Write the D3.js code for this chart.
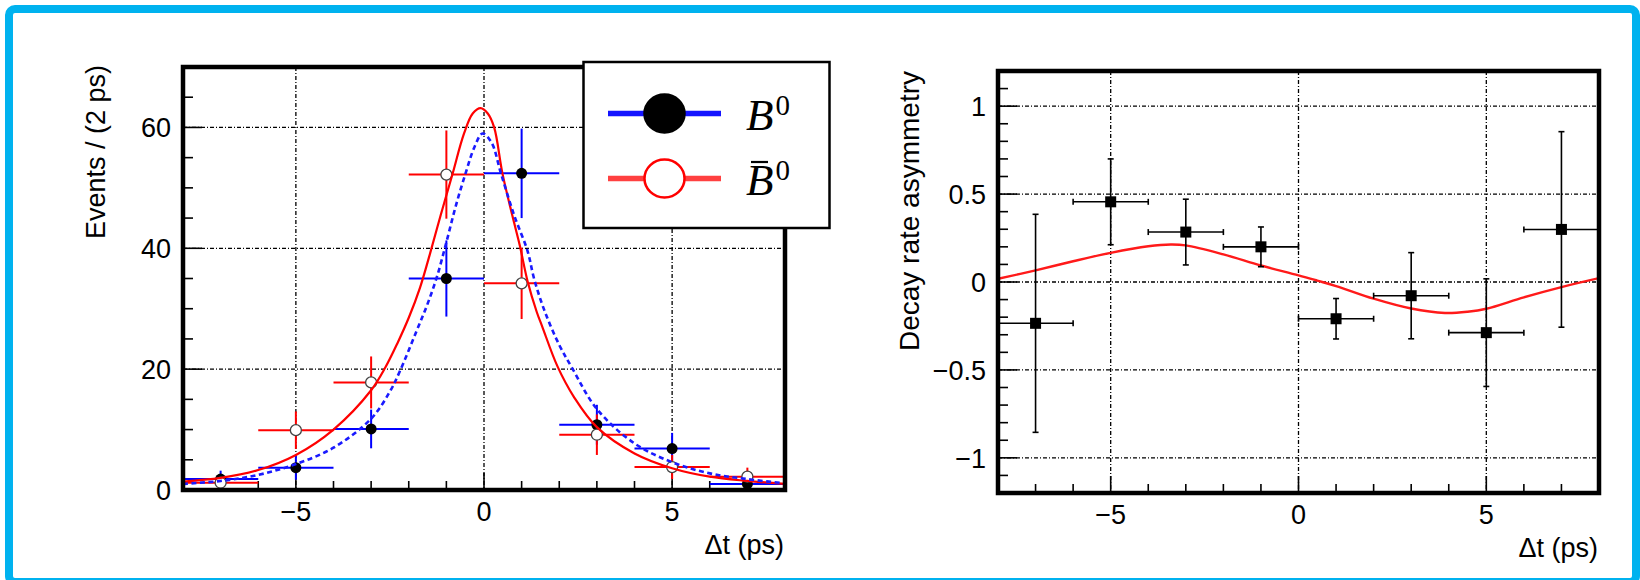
<!DOCTYPE html>
<html>
<head>
<meta charset="utf-8">
<script src="https://cdn.jsdelivr.net/npm/d3@7"></script>
<style>
  html, body { margin: 0; padding: 0; background: #fff; }
  svg { display: block; }
  text { font-family: "Liberation Sans", Arial, Helvetica, sans-serif; fill: #000; }
</style>
</head>
<body>
<svg id="chart" width="1640" height="580"></svg>
<script>
// Time-bin centres (ps) and bin half-width shared by both panels
const binCenters = [-7, -5, -3, -1, 1, 3, 5, 7];
const binHalfWidth = 1;

// Left panel: tagged event counts per 2 ps bin
const b0Counts      = [1.8, 3.7, 10.1, 35.0, 52.4, 10.8, 6.85, 1.0];
const b0Errors      = [1.4, 2.0, 3.2, 6.3, 7.4, 3.3, 2.6, 1.0];
const b0barCounts   = [1.2, 9.9, 17.8, 52.2, 34.2, 9.15, 3.8, 2.2];
const b0barErrors   = [1.1, 3.1, 4.3, 7.3, 5.9, 3.35, 2.0, 1.5];

// Left panel: fitted decay-time distributions
const b0FitT    = [-8, -7, -6, -5, -4, -3, -2.5, -2.24, -1.8, -1.5, -1.25, -1.0, -0.75, -0.49, -0.25, -0.04, 0.2, 0.45, 0.8, 1.16, 1.33, 1.6, 2.0, 2.35, 3.0, 4.0, 5.0, 6.0, 7.0, 8.0];
const b0FitY    = [1.0, 1.5, 2.5, 4.3, 7.0, 11.8, 16.3, 19.6, 26.2, 30.8, 35.3, 41, 47, 52.4, 56.8, 59.0, 57.5, 52.4, 45.5, 39.5, 35, 29.8, 24.0, 20.1, 13.4, 7.7, 4.6, 2.75, 1.8, 1.1];
const b0barFitT = [-8, -7, -6, -5, -4, -3, -2.62, -2.3, -2, -1.7, -1.44, -1.15, -0.85, -0.53, -0.3, -0.09, 0.1, 0.27, 0.49, 0.75, 0.95, 1.16, 1.4, 1.55, 1.95, 2.4, 3.0, 4.0, 5.0, 6.0, 7.0, 8.0];
const b0barFitY = [1.4, 2.0, 3.3, 5.8, 10.0, 16.5, 20.3, 24.3, 28.5, 33.5, 39, 45.5, 52, 59, 62.3, 63.2, 62.3, 60, 52.4, 45.5, 40.5, 34.5, 29.5, 27, 20.5, 15.3, 10.4, 6.05, 3.6, 2.2, 1.5, 1.0];

// Right panel: decay rate asymmetry per bin and the fitted oscillation
const asymValues = [-0.235, 0.456, 0.284, 0.200, -0.209, -0.078, -0.288, 0.299];
const asymErrors = [0.62, 0.244, 0.187, 0.113, 0.115, 0.245, 0.306, 0.556];
const asymFitT   = [-8, -7, -6, -5, -4, -3.4, -3, -2, -1, 0, 0.5, 1, 2, 3, 3.9, 4.5, 5, 6, 7, 8];
const asymFitY   = [0.018, 0.066, 0.118, 0.166, 0.203, 0.213, 0.208, 0.157, 0.094, 0.038, 0.008, -0.023, -0.095, -0.151, -0.176, -0.169, -0.152, -0.087, -0.029, 0.022];

// Axis ticks
const timeTicks      = [-5, 0, 5];
const timeMinorTicks = d3.range(-8, 9, 1);
const eventTicks     = [0, 20, 40, 60];
const eventMinorTicks = d3.range(0, 71, 5);
const asymTicks      = [-1, -0.5, 0, 0.5, 1];
const asymMinorTicks = d3.range(-12, 13, 1).map(d => d / 10);

// Axis titles and legend labels
const timeTitle  = "\u0394t (ps)";
const eventTitle = "Events / (2 ps)";
const asymTitle  = "Decay rate asymmetry";
const legendBase = "B";
const legendSup  = "0";

const svg = d3.select("#chart");
const fmt = v => String(v).replace("-", "\u2212");

// outer border
svg.append("rect")
  .attr("x", 9).attr("y", 9).attr("width", 1627).attr("height", 573)
  .attr("rx", 6)
  .attr("fill", "none").attr("stroke", "#00b2ef").attr("stroke-width", 8);

function panel(box, yDomain, yTicks, yMinor, clipId) {
  const x = d3.scaleLinear().domain([-8, 8]).range([box.x0, box.x1]);
  const y = d3.scaleLinear().domain(yDomain).range([box.y1, box.y0]);
  const g = svg.append("g");

  svg.append("clipPath").attr("id", clipId)
    .append("rect").attr("x", box.x0).attr("y", box.y0)
    .attr("width", box.x1 - box.x0).attr("height", box.y1 - box.y0);

  // grid
  const grid = g.append("g").attr("stroke", "#000").attr("stroke-width", 1.3)
    .attr("stroke-dasharray", "4 2 1 2");
  grid.selectAll("line.gx").data(timeTicks).join("line")
    .attr("x1", d => x(d)).attr("x2", d => x(d))
    .attr("y1", box.y0).attr("y2", box.y1);
  grid.selectAll("line.gy").data(yTicks.filter(v => v !== yDomain[0])).join("line")
    .attr("y1", d => y(d)).attr("y2", d => y(d))
    .attr("x1", box.x0).attr("x2", box.x1);

  // ticks
  const tk = g.append("g").attr("stroke", "#000").attr("stroke-width", 1.6);
  tk.selectAll("line.tx").data(timeMinorTicks).join("line")
    .attr("x1", d => x(d)).attr("x2", d => x(d))
    .attr("y1", box.y1).attr("y2", d => box.y1 - (timeTicks.includes(d) ? 17 : 9));
  tk.selectAll("line.ty").data(yMinor).join("line")
    .attr("y1", d => y(d)).attr("y2", d => y(d))
    .attr("x1", box.x0).attr("x2", d => box.x0 + (yTicks.some(t => Math.abs(t - d) < 1e-9) ? 19 : 10));

  // tick labels
  g.selectAll("text.xl").data(timeTicks).join("text")
    .attr("x", d => x(d)).attr("y", box.y1 + 31)
    .attr("text-anchor", "middle").attr("font-size", 27).text(fmt);
  g.selectAll("text.yl").data(yTicks).join("text")
    .attr("x", box.x0 - 12).attr("y", d => y(d)).attr("dy", "0.36em")
    .attr("text-anchor", "end").attr("font-size", 27).text(fmt);

  g.append("text").attr("x", box.x1 - 1).attr("y", box.y1 + 64)
    .attr("text-anchor", "end").attr("font-size", 27).text(timeTitle);

  const content = svg.append("g").attr("clip-path", `url(#${clipId})`);
  return { x, y, g, content, box };
}

function drawFrame(box) {
  svg.append("rect").attr("x", box.x0).attr("y", box.y0)
    .attr("width", box.x1 - box.x0).attr("height", box.y1 - box.y0)
    .attr("fill", "none").attr("stroke", "#000").attr("stroke-width", 4.5);
}

// ---------- Left panel: event counts ----------
const L = panel({ x0: 183, x1: 785, y0: 67, y1: 490 }, [0, 70], eventTicks, eventMinorTicks, "clipL");

svg.append("text")
  .attr("transform", "translate(105,65) rotate(-90)")
  .attr("text-anchor", "end").attr("font-size", 27).text(eventTitle);

function errorBars(p, values, errors, color) {
  const eg = p.content.append("g").attr("stroke", color).attr("stroke-width", 2);
  eg.selectAll("line.h").data(binCenters).join("line")
    .attr("x1", d => p.x(d - binHalfWidth)).attr("x2", d => p.x(d + binHalfWidth))
    .attr("y1", (d, i) => p.y(values[i])).attr("y2", (d, i) => p.y(values[i]));
  eg.selectAll("line.v").data(binCenters).join("line")
    .attr("x1", d => p.x(d)).attr("x2", d => p.x(d))
    .attr("y1", (d, i) => p.y(Math.max(0, values[i] - errors[i])))
    .attr("y2", (d, i) => p.y(values[i] + errors[i]));
}

errorBars(L, b0Counts, b0Errors, "#0000ff");
errorBars(L, b0barCounts, b0barErrors, "#ff0000");

L.content.append("g").selectAll("circle").data(binCenters).join("circle")
  .attr("cx", d => L.x(d)).attr("cy", (d, i) => L.y(b0Counts[i]))
  .attr("r", 5.5).attr("fill", "#000");
L.content.append("g").selectAll("circle").data(binCenters).join("circle")
  .attr("cx", d => L.x(d)).attr("cy", (d, i) => L.y(b0barCounts[i]))
  .attr("r", 5.5).attr("fill", "#fff").attr("stroke", "#444").attr("stroke-width", 1.3);

const lineL = d3.line().x(d => L.x(d[0])).y(d => L.y(d[1])).curve(d3.curveCatmullRom.alpha(0.5));
L.content.append("path")
  .attr("d", lineL(d3.zip(b0barFitT, b0barFitY)))
  .attr("fill", "none").attr("stroke", "#ff0000").attr("stroke-width", 2.2);
L.content.append("path")
  .attr("d", lineL(d3.zip(b0FitT, b0FitY)))
  .attr("fill", "none").attr("stroke", "#1a1aff").attr("stroke-width", 2.6)
  .attr("stroke-dasharray", "5 3.5");

drawFrame(L.box);

// legend
const leg = svg.append("g");
leg.append("rect").attr("x", 583.5).attr("y", 62).attr("width", 246).attr("height", 166)
  .attr("fill", "#fff").attr("stroke", "#000").attr("stroke-width", 2.5);
const legendRows = [
  { y: 113.5, line: "#1414ff", fill: "#000", stroke: "#000", bar: false },
  { y: 178.5, line: "#ff4040", fill: "#fff", stroke: "#ff0000", bar: true }
];
legendRows.forEach(r => {
  leg.append("line").attr("x1", 608).attr("x2", 721).attr("y1", r.y).attr("y2", r.y)
    .attr("stroke", r.line).attr("stroke-width", 5.5);
  leg.append("ellipse").attr("cx", 664.5).attr("cy", r.y).attr("rx", 20).attr("ry", 19)
    .attr("fill", r.fill).attr("stroke", r.stroke).attr("stroke-width", 2.5);
  const t = leg.append("text").attr("x", 746).attr("y", r.y + 16.5)
    .style("font-family", "'Liberation Serif', 'DejaVu Serif', serif");
  t.append("tspan").attr("font-size", 45).attr("font-style", "italic").text(legendBase);
  t.append("tspan").attr("font-size", 29).attr("dx", 2).attr("dy", -15).text(legendSup);
  if (r.bar) {
    leg.append("line").attr("x1", 751).attr("x2", 768).attr("y1", r.y - 16.5).attr("y2", r.y - 16.5)
      .attr("stroke", "#000").attr("stroke-width", 2.2);
  }
});

// ---------- Right panel: decay rate asymmetry ----------
const R = panel({ x0: 998, x1: 1599, y0: 71, y1: 493 }, [-1.2, 1.2], asymTicks, asymMinorTicks, "clipR");

svg.append("text")
  .attr("transform", "translate(919,71) rotate(-90)")
  .attr("text-anchor", "end").attr("font-size", 28).text(asymTitle);

const lineR = d3.line().x(d => R.x(d[0])).y(d => R.y(d[1])).curve(d3.curveCatmullRom.alpha(0.5));
R.content.append("path")
  .attr("d", lineR(d3.zip(asymFitT, asymFitY)))
  .attr("fill", "none").attr("stroke", "#ff1a1a").attr("stroke-width", 2.4);

const ag = R.content.append("g").attr("stroke", "#000").attr("stroke-width", 1.6);
const cap = 3;
binCenters.forEach((c, i) => {
  const yc = R.y(asymValues[i]);
  const yt = R.y(asymValues[i] + asymErrors[i]);
  const yb = R.y(asymValues[i] - asymErrors[i]);
  const xl = R.x(c - binHalfWidth), xr = R.x(c + binHalfWidth), xc = R.x(c);
  ag.append("line").attr("x1", xl).attr("x2", xr).attr("y1", yc).attr("y2", yc);
  ag.append("line").attr("x1", xc).attr("x2", xc).attr("y1", yt).attr("y2", yb);
  ag.append("line").attr("x1", xl).attr("x2", xl).attr("y1", yc - cap).attr("y2", yc + cap);
  ag.append("line").attr("x1", xr).attr("x2", xr).attr("y1", yc - cap).attr("y2", yc + cap);
  ag.append("line").attr("x1", xc - cap).attr("x2", xc + cap).attr("y1", yt).attr("y2", yt);
  ag.append("line").attr("x1", xc - cap).attr("x2", xc + cap).attr("y1", yb).attr("y2", yb);
});
R.content.append("g").selectAll("rect").data(binCenters).join("rect")
  .attr("x", d => R.x(d) - 5.5).attr("y", (d, i) => R.y(asymValues[i]) - 5.5)
  .attr("width", 11).attr("height", 11).attr("fill", "#000");

drawFrame(R.box);
</script>
</body>
</html>
